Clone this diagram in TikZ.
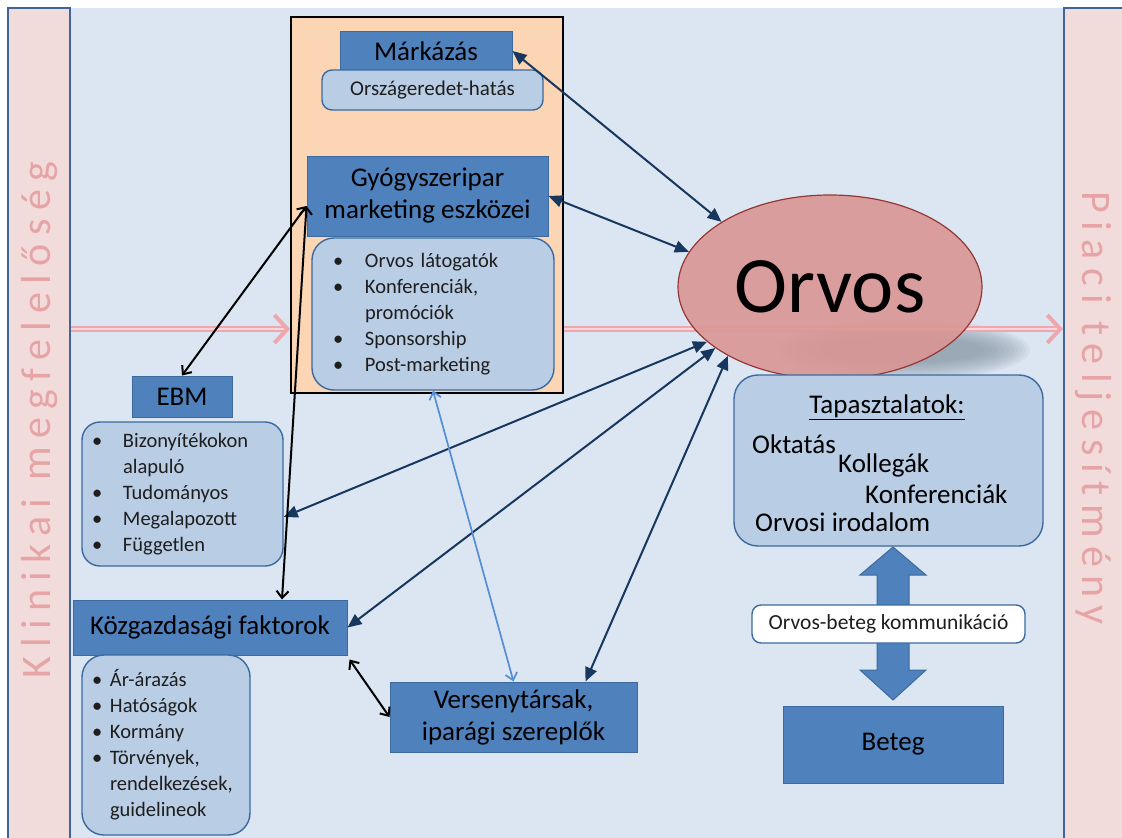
\documentclass[tikz,border=0pt]{standalone}
\usepackage{fontspec}
\setmainfont{Carlito}
\newfontfamily\spacedfont[LetterSpace=20]{Carlito}
\usetikzlibrary{arrows.meta}
\usetikzlibrary{shapes.geometric}

\definecolor{panelblue}{HTML}{DCE6F2}
\definecolor{stripfill}{HTML}{F2DCDB}
\definecolor{stripline}{HTML}{3F6597}
\definecolor{boxblue}{HTML}{4F81BD}
\definecolor{boxline}{HTML}{3C6A9E}
\definecolor{lightbox}{HTML}{B9CDE5}
\definecolor{orangefill}{HTML}{FCD5B5}
\definecolor{navy}{HTML}{17375E}
\definecolor{orvosred}{HTML}{DA9694}
\definecolor{orvosline}{HTML}{953735}
\definecolor{sidepink}{HTML}{E6A4A6}
\definecolor{arrowpink}{HTML}{EFA7AE}
\definecolor{linkblue}{HTML}{558ED5}
\definecolor{textgray}{HTML}{1E1E1E}
\definecolor{shadowgray}{HTML}{6F7C8C}

\newcommand{\bul}[1]{\makebox[#1][l]{\textbullet}}

\begin{document}
\begin{tikzpicture}[x=1pt, y=-1pt,
  headbox/.style={rectangle, fill=boxblue, draw=boxline, line width=1pt, inner sep=0pt, align=center, font=\fontsize{27}{32}\selectfont},
  listbox/.style={rectangle, rounded corners=18pt, fill=lightbox, draw=boxline, line width=1.4pt, inner ysep=0pt, align=left, text=textgray, font=\fontsize{20.5}{26}\selectfont},
  sidebar/.style={rectangle, fill=stripfill, draw=stripline, line width=2pt, inner sep=0pt},
  sidetext/.style={text=sidepink, font=\spacedfont\fontsize{42}{42}\selectfont},
  orangebox/.style={rectangle, fill=orangefill, draw=black, line width=1.8pt, inner sep=0pt},
  exp/.style={font=\fontsize{27}{32}\selectfont, text=black},
  nav/.style={{Triangle[length=14pt,width=12pt]}-{Triangle[length=14pt,width=12pt]}, draw=navy, line width=2pt},
  blk/.style={{Straight Barb[length=7pt,width=12pt]}-{Straight Barb[length=7pt,width=12pt]}, draw=black, line width=2pt},
  lnk/.style={{Straight Barb[length=7pt,width=12pt]}-{Straight Barb[length=7pt,width=12pt]}, draw=linkblue, line width=1.7pt},
  pinkline/.style={draw=arrowpink, double=arrowpink!45, double distance=2.5pt, line width=1.5pt, -{Straight Barb[length=13pt,width=28pt,line width=4pt]}}]
	\useasboundingbox (0,0) rectangle (1122,838);

	% background
	\fill[panelblue] (70,8) rectangle (1064,838);
	\node[sidebar, minimum width=62pt, minimum height=834pt] (lstrip) at (39,425) {};
	\node[sidebar, minimum width=60pt, minimum height=834pt] (rstrip) at (1094,425) {};
	\node[sidetext, rotate=90] (klin) at (40,420) {Klinikai megfelelőség};
	\node[sidetext, rotate=-90] (piac) at (1093,408) {Piaci teljesítmény};

	% marketing
	\node[orangebox, minimum width=272pt, minimum height=376pt] (frame) at (427,205) {};
	\node[headbox, minimum width=172pt, minimum height=40pt] (mark) at (426,51) {Márkázás};
	\node[listbox, rounded corners=10pt, minimum width=221pt, minimum height=40pt, align=center, font=\fontsize{21}{24}\selectfont] (orig) at (432.5,90) {Országeredet-hatás};
	\node[headbox, minimum width=241pt, minimum height=80pt] (gyogy) at (427.5,196) {Gyógyszeripar\\marketing eszközei};
	\node[listbox, rounded corners=22pt, minimum width=242pt, minimum height=152pt, inner xsep=21pt, text width=200pt] (mlist) at (433,314)
		{\bul{32pt}Orvos látogatók\\ \bul{32pt}Konferenciák,\\ \hspace*{32pt}promóciók\\ \bul{32pt}Sponsorship\\ \bul{32pt}Post-marketing};

	% left side
	\node[headbox, minimum width=100pt, minimum height=41pt] (ebm) at (182,396.5) {EBM};
	\node[listbox, minimum width=201pt, minimum height=144pt, inner xsep=10pt, text width=181pt] (elist) at (182.5,494)
		{\bul{31pt}Bizonyítékokon\\ \hspace*{31pt}alapuló\\ \bul{31pt}Tudományos\\ \bul{31pt}Megalapozott\\ \bul{31pt}Független};
	\node[headbox, minimum width=274pt, minimum height=55pt] (kozg) at (210,627.5) {Közgazdasági faktorok};
	\node[listbox, rounded corners=22pt, minimum width=168pt, minimum height=180pt, inner xsep=10pt, text width=148pt] (klist) at (166,745)
		{\bul{18pt}Ár-árazás\\ \bul{18pt}Hatóságok\\ \bul{18pt}Kormány\\ \bul{18pt}Törvények,\\ \hspace*{18pt}rendelkezések,\\ \hspace*{18pt}guidelineok};
	\node[headbox, minimum width=247pt, minimum height=70pt] (vers) at (513.5,717) {Versenytársak,\\iparági szereplők};

	% orvos
	\coordinate (mid) at (0,329);
	\foreach \rx/\ry in {128/31, 124/29, 120/27, 116/25, 112/23, 107/21, 102/19, 96/17, 90/15, 83/13}
		\fill[shadowgray, opacity=0.08] (902,350) ellipse [x radius=\rx pt, y radius=\ry pt];
	\draw[pinkline] (lstrip.east |- mid) -- (frame.west |- mid);
	\draw[pinkline] (frame.east |- mid) -- (rstrip.west |- mid);
	\node[ellipse, fill=orvosred, fill opacity=0.9, text opacity=1, draw=orvosline, line width=1.2pt, minimum width=304pt, minimum height=184pt, inner sep=0pt, font=\fontsize{80}{90}\selectfont] (orvos) at (830,287) {Orvos};

	% experience and patient
	\node[listbox, rounded corners=24pt, minimum width=309pt, minimum height=171pt] (tap) at (888.5,460.5) {};
	\node[exp, anchor=base] (taptitle) at (887,413) {\underline{Tapasztalatok:}};
	\node[exp, anchor=base west, inner sep=0pt] (okt) at (752,453) {Oktatás};
	\node[exp, anchor=base west, inner sep=0pt] (koll) at (838,472) {Kollegák};
	\node[exp, anchor=base west, inner sep=0pt] (konf) at (865,503) {Konferenciák};
	\node[exp, anchor=base west, inner sep=0pt] (irod) at (755,531) {Orvosi irodalom};
	\node[headbox, minimum width=220pt, minimum height=77pt] (beteg) at (893,744.5) {Beteg};
	\filldraw[fill=boxblue, draw=boxline, line width=1pt] (893,547) -- (926,575) -- (909,575) -- (909,670) -- (926,670) -- (893,700)
		-- (860,670) -- (877,670) -- (877,575) -- (860,575) -- cycle;
	\node[rectangle, rounded corners=9pt, fill=white, draw=boxline, line width=1.4pt, minimum width=273pt, minimum height=38pt, text=textgray, font=\fontsize{21.5}{24}\selectfont] (comm) at (888.5,624) {Orvos-beteg kommunikáció};

	% edges
	\draw[nav] (mark.east) -- (orvos.149);
	\draw[nav] (gyogy.east) -- (orvos.166);
	\draw[nav] ([yshift=-23pt]elist.east) -- (orvos.204);
	\draw[nav] (kozg.east) -- (orvos.208);
	\draw[nav] ([xshift=72pt]vers.north) -- (orvos.214);
	\draw[blk] ([yshift=-10pt]gyogy.west) -- (ebm.north);
	\draw[blk] ([yshift=-10pt]gyogy.west) -- ([xshift=72pt]kozg.north);
	\draw[blk] ([xshift=2pt,yshift=-4pt]kozg.south east) -- (vers.west);
	\draw[lnk] (mlist.south) -- (vers.north);
\end{tikzpicture}
\end{document}
